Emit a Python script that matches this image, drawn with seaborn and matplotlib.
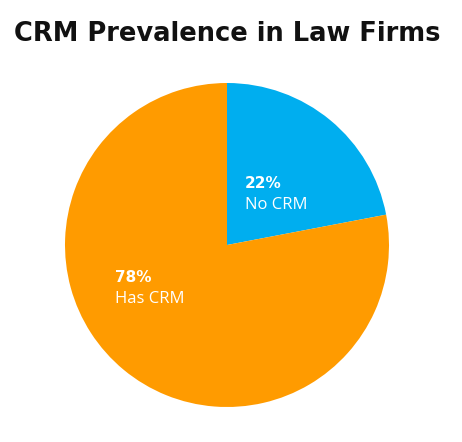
import matplotlib
matplotlib.use("Agg")
import matplotlib.pyplot as plt
import seaborn as sns

sns.set_theme(style="white")

categories = ["No CRM", "Has CRM"]
values = [22, 78]
colors = ["#00AEEF", "#FF9B00"]

fig = plt.figure(figsize=(4.62, 4.42), dpi=100)
fig.patch.set_facecolor("white")

fig.text(227 / 462, 1 - 34 / 442, "CRM Prevalence in Law Firms",
         ha="center", va="center", fontsize=18.5, fontweight="bold",
         family=["DejaVu Sans"], color="#111111")

ax = fig.add_axes([65 / 462, (442 - 407) / 442, 324 / 462, 324 / 442])
ax.pie(values, colors=colors, startangle=90, counterclock=False,
       radius=1, wedgeprops=dict(linewidth=0))
ax.set_xlim(-1, 1)
ax.set_ylim(-1, 1)
ax.set_aspect("equal")
ax.axis("off")

label_pos = [(245, 184, 205), (115, 278, 299)]
cx, cy, r = 227, 245, 162
for (lx, py, ny), cat, v in zip(label_pos, categories, values):
    ax.text((lx - cx) / r, (cy - py) / r, f"{v}%", ha="left", va="center",
            fontsize=11, fontweight="bold", color="white", family=["DejaVu Sans"])
    ax.text((lx - cx) / r, (cy - ny) / r, cat, ha="left", va="center",
            fontsize=12, color="white", family=["Open Sans"])

fig.savefig("out.png", dpi=100, facecolor="white")
